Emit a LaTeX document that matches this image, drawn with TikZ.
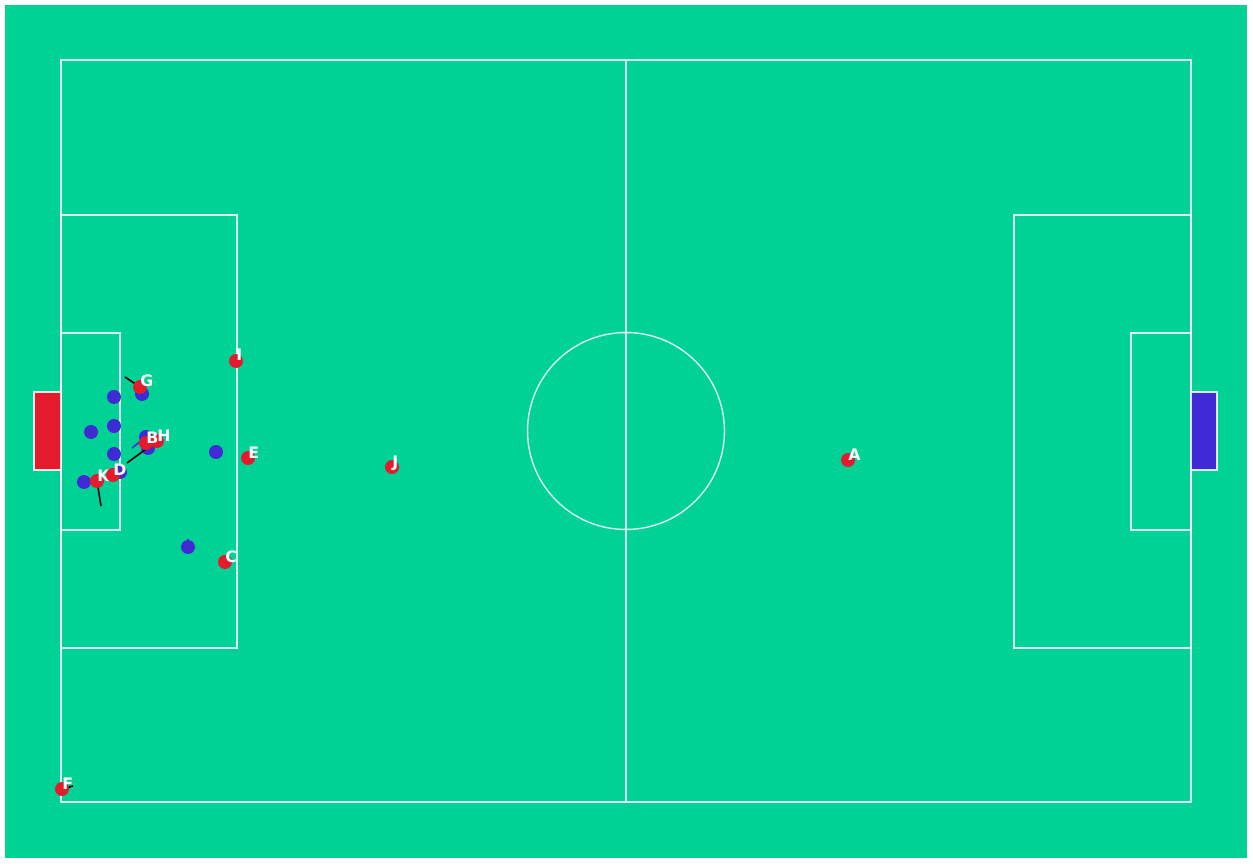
\documentclass[tikz,border=0pt]{standalone}
\usepackage{fontspec}
\setsansfont{DejaVu Sans}
\usetikzlibrary{calc}
\definecolor{pitchgreen}{RGB}{0,210,150}
\definecolor{homered}{RGB}{227,27,45}
\definecolor{awayblue}{RGB}{64,42,214}
\newcommand{\redplayer}[3]{
\node[redp] (#1) at (#2) {};
\node[tag] at (#1.center) {#3};
}
\newcommand{\blueplayer}[2]{
\node[bluep] (#1) at (#2) {};
}

\begin{document}
\begin{tikzpicture}[x=0.02cm, y=-0.02cm,
    pitchline/.style={draw=white, draw opacity=0.85, line width=0.8pt},
    redp/.style={circle, fill=homered, inner sep=0pt, minimum size=0.28cm},
    bluep/.style={circle, fill=awayblue, inner sep=0pt, minimum size=0.28cm},
    tag/.style={anchor=base west, inner sep=0pt, text=white, font=\sffamily\bfseries\fontsize{9}{10}\selectfont},
    heading/.style={line width=0.9pt}]
    \useasboundingbox[fill=white] (0,0) rectangle (1253,864);
    \fill[pitchgreen] (5,5) rectangle (1247,858);
    % pitch markings
    \draw[pitchline] (61,60) rectangle (1191,802);
    \draw[pitchline] (626,60) -- (626,802);
    \draw[pitchline] (626,431) circle [radius=1.97cm];
    \draw[pitchline] (61,215) rectangle (237,648);
    \draw[pitchline] (1191,215) rectangle (1014,648);
    \draw[pitchline] (61,333) rectangle (120,530);
    \draw[pitchline] (1191,333) rectangle (1131,530);
    % goals
    \filldraw[fill=homered, pitchline] (34,392) rectangle (61,470);
    \filldraw[fill=awayblue, pitchline] (1191,392) rectangle (1217,470);
    % defending side
    \draw[heading, awayblue] (146,437) -- (132,448);
    \draw[heading, awayblue] (188,547) -- (188,539);
    \blueplayer{b1}{114,397}
    \blueplayer{b2}{142,394}
    \blueplayer{b3}{91,432}
    \blueplayer{b4}{114,426}
    \blueplayer{b5}{146,437}
    \blueplayer{b6}{148,448}
    \blueplayer{b7}{114,454}
    \blueplayer{b8}{216,452}
    \blueplayer{b9}{84,482}
    \blueplayer{b10}{120,472}
    \blueplayer{b11}{188,547}
    % heading lines of the attacking side
    \coordinate (gto) at (125,377);
    \coordinate (hto) at (127,463);
    \coordinate (kto) at (101,506);
    \coordinate (fto) at (73,786);
    \draw[heading] (gto) -- (140,387);
    \draw[heading] (hto) -- (157,441);
    \draw[heading] (kto) -- (97,481);
    \draw[heading] (fto) -- (62,789);
    % attacking side
    \redplayer{pA}{848,460}{A}
    \redplayer{pJ}{392,467}{J}
    \redplayer{pI}{236,361}{I}
    \redplayer{pE}{248,458}{E}
    \redplayer{pC}{225,562}{C}
    \redplayer{pF}{62,789}{F}
    \redplayer{pG}{140,387}{G}
    \redplayer{pH}{157,441}{H}
    \redplayer{pB}{146,443}{B}
    \redplayer{pK}{97,481}{K}
    \redplayer{pD}{113,475}{D}
\end{tikzpicture}
\end{document}
